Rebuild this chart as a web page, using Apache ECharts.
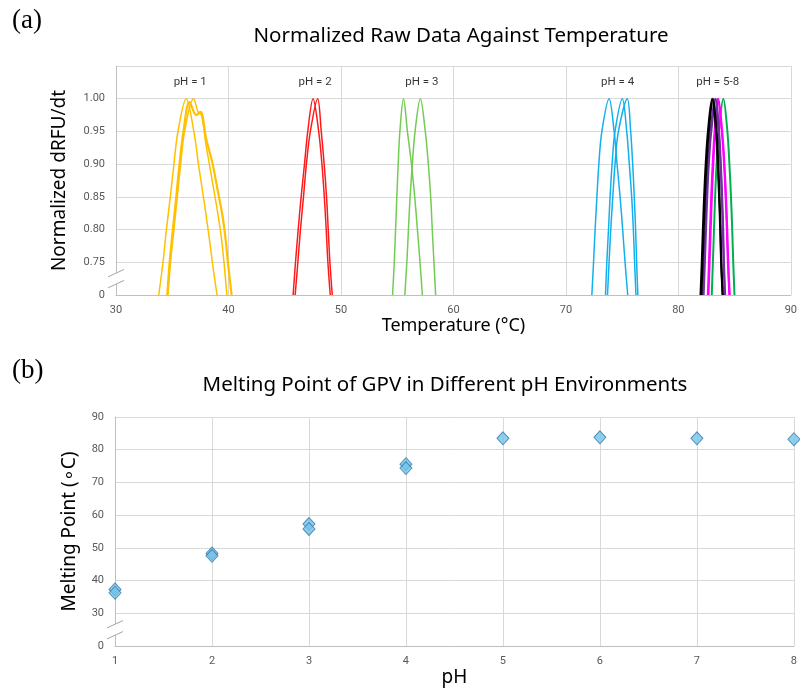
<!DOCTYPE html>
<html>
<head>
<meta charset="utf-8">
<script src="https://cdn.jsdelivr.net/npm/echarts@6/dist/echarts.min.js"></script>
<style>
html, body { margin: 0; padding: 0; background: #fff; }
#main { width: 800px; height: 688px; }
</style>
</head>
<body>
<div id="main"></div>
<script>
// (a) curves: [temperature, normalized dRFU/dt]
var ph1a = [[33.80,0],[34.18,0.75],[34.48,0.80],[34.83,0.85],[35.15,0.90],[35.51,0.95],[36.24,1.00],[36.92,0.95],[37.33,0.90],[37.77,0.85],[38.19,0.80],[38.57,0.75],[38.98,0]];
var ph1b = [[34.56,0],[34.77,0.75],[35.06,0.80],[35.36,0.85],[35.65,0.90],[36.00,0.95],[36.54,0.995],[37.13,0.975],[37.51,0.98],[38.00,0.94],[38.30,0.92],[38.60,0.90],[39.04,0.86],[39.48,0.82],[39.78,0.78],[39.95,0.75],[40.28,0]];
var ph1c = [[34.62,0],[34.85,0.75],[35.15,0.80],[35.45,0.85],[35.75,0.90],[36.10,0.95],[36.90,1.00],[37.30,0.98],[37.60,0.975],[38.00,0.93],[38.30,0.90],[38.60,0.87],[39.00,0.83],[39.35,0.79],[39.60,0.75],[39.86,0]];
var ph2a = [[45.75,0],[45.96,0.75],[46.20,0.80],[46.46,0.85],[46.76,0.90],[47.05,0.95],[47.52,1.00],[48.02,0.95],[48.31,0.90],[48.52,0.85],[48.69,0.80],[48.84,0.75],[49.05,0]];
var ph2b = [[45.93,0],[46.17,0.75],[46.40,0.80],[46.67,0.85],[46.93,0.90],[47.28,0.95],[47.93,1.00],[48.25,0.95],[48.51,0.90],[48.72,0.85],[48.87,0.80],[49.02,0.75],[49.23,0]];
var ph3a = [[54.59,0],[54.74,0.75],[54.86,0.80],[54.97,0.85],[55.09,0.90],[55.24,0.95],[55.56,1.00],[55.91,0.95],[56.27,0.90],[56.56,0.85],[56.80,0.80],[57.03,0.75],[57.24,0]];
var ph3b = [[55.68,0],[55.86,0.75],[56.00,0.80],[56.15,0.85],[56.35,0.90],[56.59,0.95],[57.06,1.00],[57.50,0.95],[57.77,0.90],[57.98,0.85],[58.12,0.80],[58.27,0.75],[58.42,0]];
var ph4a = [[72.31,0],[72.46,0.75],[72.60,0.80],[72.76,0.85],[72.93,0.90],[73.20,0.95],[73.84,1.00],[74.29,0.95],[74.55,0.90],[74.82,0.85],[75.05,0.80],[75.26,0.75],[75.50,0]];
var ph4b = [[73.52,0],[73.64,0.75],[73.79,0.80],[73.93,0.85],[74.11,0.90],[74.37,0.95],[75.02,1.00],[75.41,0.95],[75.64,0.90],[75.85,0.85],[76.00,0.80],[76.11,0.75],[76.23,0]];
var ph4c = [[73.70,0],[73.84,0.75],[73.99,0.80],[74.17,0.85],[74.37,0.90],[74.67,0.95],[75.46,1.00],[75.76,0.95],[75.94,0.90],[76.08,0.85],[76.20,0.80],[76.29,0.75],[76.40,0]];
var ph58black1 = [[81.97,0],[82.08,0.75],[82.18,0.80],[82.29,0.85],[82.43,0.90],[82.63,0.95],[83.00,1.00],[83.35,0.95],[83.50,0.90],[83.62,0.85],[83.72,0.80],[83.80,0.75],[83.93,0]];
var ph58black2 = [[82.05,0],[82.16,0.75],[82.26,0.80],[82.37,0.85],[82.51,0.90],[82.71,0.95],[83.08,1.00],[83.40,0.95],[83.55,0.90],[83.66,0.85],[83.75,0.80],[83.82,0.75],[83.95,0]];
var ph58purple1 = [[82.18,0],[82.29,0.75],[82.39,0.80],[82.50,0.85],[82.64,0.90],[82.86,0.95],[83.27,1.00],[83.58,0.95],[83.74,0.90],[83.86,0.85],[83.95,0.80],[84.02,0.75],[84.12,0]];
var ph58purple2 = [[82.25,0],[82.36,0.75],[82.46,0.80],[82.57,0.85],[82.71,0.90],[82.93,0.95],[83.33,1.00],[83.62,0.95],[83.78,0.90],[83.90,0.85],[83.99,0.80],[84.06,0.75],[84.16,0]];
var ph58magenta1 = [[82.62,0],[82.72,0.75],[82.82,0.80],[82.92,0.85],[83.05,0.90],[83.22,0.95],[83.50,1.00],[83.86,0.95],[84.06,0.90],[84.20,0.85],[84.31,0.80],[84.40,0.75],[84.53,0]];
var ph58magenta2 = [[82.68,0],[82.78,0.75],[82.88,0.80],[82.98,0.85],[83.11,0.90],[83.28,0.95],[83.56,1.00],[83.90,0.95],[84.10,0.90],[84.24,0.85],[84.35,0.80],[84.44,0.75],[84.57,0]];
var ph58green = [[82.97,0],[83.07,0.75],[83.17,0.80],[83.27,0.85],[83.40,0.90],[83.60,0.95],[84.00,1.00],[84.36,0.95],[84.54,0.90],[84.68,0.85],[84.79,0.80],[84.88,0.75],[84.99,0]];

var groupLabels = ['pH = 1', 'pH = 2', 'pH = 3', 'pH = 4', 'pH = 5-8'];
var groupLabelTemps = [36.6, 47.7, 57.2, 74.6, 83.5];

// (b) melting points
var phValues = [1, 1, 2, 2, 3, 3, 4, 4, 5, 6, 7, 8];
var meltValues = [37.3, 36.3, 48.3, 47.6, 57.3, 55.8, 75.6, 74.4, 83.5, 83.8, 83.5, 83.2];

// broken y axes: everything below the first real tick is squeezed into one step
function brkTop(v) { return v < 0.75 ? 0.70 + v / 0.75 * 0.05 : v; }
function brkBottom(v) { return v < 30 ? 20 + v / 30 * 10 : v; }

var myChart = echarts.init(document.getElementById('main'));

var tickFont = { color: '#595959', fontSize: 11, fontFamily: 'Roboto' };
var gridLine = { lineStyle: { color: '#D9D9D9', width: 1 } };

function curve(name, pts, color, width) {
	return {
		name: name,
		type: 'line',
		xAxisIndex: 0,
		yAxisIndex: 0,
		data: pts.map(function (p) { return [p[0], brkTop(p[1])]; }),
		smooth: 0.35,
		showSymbol: false,
		silent: true,
		lineStyle: { color: color, width: width || 1.5 },
		itemStyle: { color: color }
	};
}

var series = [
	curve('ph1a', ph1a, '#FFC000'),
	curve('ph1b', ph1b, '#FFC000', 2.2),
	curve('ph1c', ph1c, '#FFC000'),
	curve('ph2a', ph2a, '#FF1A1A'),
	curve('ph2b', ph2b, '#FF1A1A'),
	curve('ph3a', ph3a, '#72CC52'),
	curve('ph3b', ph3b, '#72CC52'),
	curve('ph4a', ph4a, '#12B0EC'),
	curve('ph4b', ph4b, '#12B0EC'),
	curve('ph4c', ph4c, '#12B0EC'),
	curve('g1', ph58green, '#00B050', 2),
	curve('m1', ph58magenta1, '#FF00FF', 2),
	curve('m2', ph58magenta2, '#FF00FF', 2),
	curve('p1', ph58purple1, '#7030A0', 2),
	curve('p2', ph58purple2, '#7030A0', 2),
	curve('k1', ph58black1, '#000000', 2),
	curve('k2', ph58black2, '#000000', 2),
	{
		type: 'scatter',
		xAxisIndex: 0,
		yAxisIndex: 0,
		symbolSize: 0,
		silent: true,
		data: groupLabelTemps.map(function (t, i) { return [t, 1.025, groupLabels[i]]; }),
		label: {
			show: true,
			position: 'inside',
			formatter: function (p) { return p.data[2]; },
			color: '#000',
			fontSize: 11.5,
			fontFamily: 'Roboto'
		}
	},
	{
		type: 'scatter',
		xAxisIndex: 1,
		yAxisIndex: 1,
		symbol: 'diamond',
		symbolSize: [12, 13],
		data: phValues.map(function (p, i) { return [p, brkBottom(meltValues[i])]; }),
		itemStyle: { color: '#78C2E6', borderColor: '#2C7DB0', borderWidth: 1 }
	}
];

var option = {
	backgroundColor: '#fff',
	animation: false,
	grid: [
		{ left: 116, right: 5, top: 66, bottom: 393 },
		{ left: 115, right: 2, top: 417, bottom: 38 }
	],
	xAxis: [{
		gridIndex: 0,
		type: 'value',
		min: 30, max: 90, interval: 10,
		axisLine: { show: true, lineStyle: { color: '#BFBFBF' } },
		axisTick: { show: false },
		axisLabel: Object.assign({ margin: 10 }, tickFont),
		splitLine: gridLine,
		name: 'Temperature (°C)',
		nameLocation: 'middle',
		nameGap: 21,
		nameTextStyle: { color: '#000', fontSize: 18, fontFamily: 'Noto Sans' }
	}, {
		gridIndex: 1,
		type: 'value',
		min: 1, max: 8, interval: 1,
		axisLine: { show: true, lineStyle: { color: '#BFBFBF' } },
		axisTick: { show: false },
		axisLabel: Object.assign({ margin: 10 }, tickFont),
		splitLine: gridLine,
		name: 'pH',
		nameLocation: 'middle',
		nameGap: 17,
		nameTextStyle: { color: '#000', fontSize: 19, fontFamily: 'Noto Sans' }
	}],
	yAxis: [{
		gridIndex: 0,
		type: 'value',
		min: 0.70, max: 1.05, interval: 0.05,
		axisLine: { show: true, lineStyle: { color: '#BFBFBF' } },
		axisTick: { show: false },
		axisLabel: Object.assign({
			margin: 11,
			formatter: function (v) {
				if (v < 0.72) return '0';
				if (v > 1.02) return '';
				return v.toFixed(2);
			}
		}, tickFont),
		splitLine: gridLine,
		name: 'Normalized dRFU/dt',
		nameLocation: 'middle',
		nameGap: 47,
		nameTextStyle: { color: '#000', fontSize: 19, fontFamily: 'Noto Sans' }
	}, {
		gridIndex: 1,
		type: 'value',
		min: 20, max: 90, interval: 10,
		axisLine: { show: true, lineStyle: { color: '#BFBFBF' } },
		axisTick: { show: false },
		axisLabel: Object.assign({
			margin: 11,
			formatter: function (v) { return v < 25 ? '0' : String(v); }
		}, tickFont),
		splitLine: gridLine,
		name: 'Melting Point (\u2218C)',
		nameLocation: 'middle',
		nameGap: 36,
		nameTextStyle: { color: '#000', fontSize: 19, fontFamily: 'Noto Sans' }
	}],
	series: series
};

myChart.setOption(option);

// titles, panel letters and the axis-break marks
function breakMark(gridIndex, x, y) {
	var c = myChart.convertToPixel({ gridIndex: gridIndex }, [x, y]);
	var cx = c[0], cy = c[1], off = 5.5;
	return [
		{ type: 'polygon', shape: { points: [[cx - 8, cy + 3.7 - off], [cx + 8, cy - 3.7 - off], [cx + 8, cy - 3.7 + off], [cx - 8, cy + 3.7 + off]] }, style: { fill: '#fff' }, z: 100 },
		{ type: 'line', shape: { x1: cx - 8, y1: cy + 3.7 - off, x2: cx + 8, y2: cy - 3.7 - off }, style: { stroke: '#A6A6A6', lineWidth: 1 }, z: 101 },
		{ type: 'line', shape: { x1: cx - 8, y1: cy + 3.7 + off, x2: cx + 8, y2: cy - 3.7 + off }, style: { stroke: '#A6A6A6', lineWidth: 1 }, z: 101 }
	];
}

var marks = breakMark(0, 30, 0.725).concat(breakMark(1, 1, 25));

myChart.setOption({
	graphic: marks.concat([
		{ type: 'text', left: 12, top: 7, style: { text: '(a)', fontSize: 27, fontFamily: 'Liberation Serif', fill: '#000' } },
		{ type: 'text', left: 12, top: 357, style: { text: '(b)', fontSize: 27, fontFamily: 'Liberation Serif', fill: '#000' } },
		{ type: 'text', x: 461, y: 36, style: { text: 'Normalized Raw Data Against Temperature', fontSize: 20.5, fontFamily: 'Noto Sans', fill: '#000', align: 'center', verticalAlign: 'middle' } },
		{ type: 'text', x: 445, y: 385, style: { text: 'Melting Point of GPV in Different pH Environments', fontSize: 20.5, fontFamily: 'Noto Sans', fill: '#000', align: 'center', verticalAlign: 'middle' } }
	])
});
</script>
</body>
</html>
